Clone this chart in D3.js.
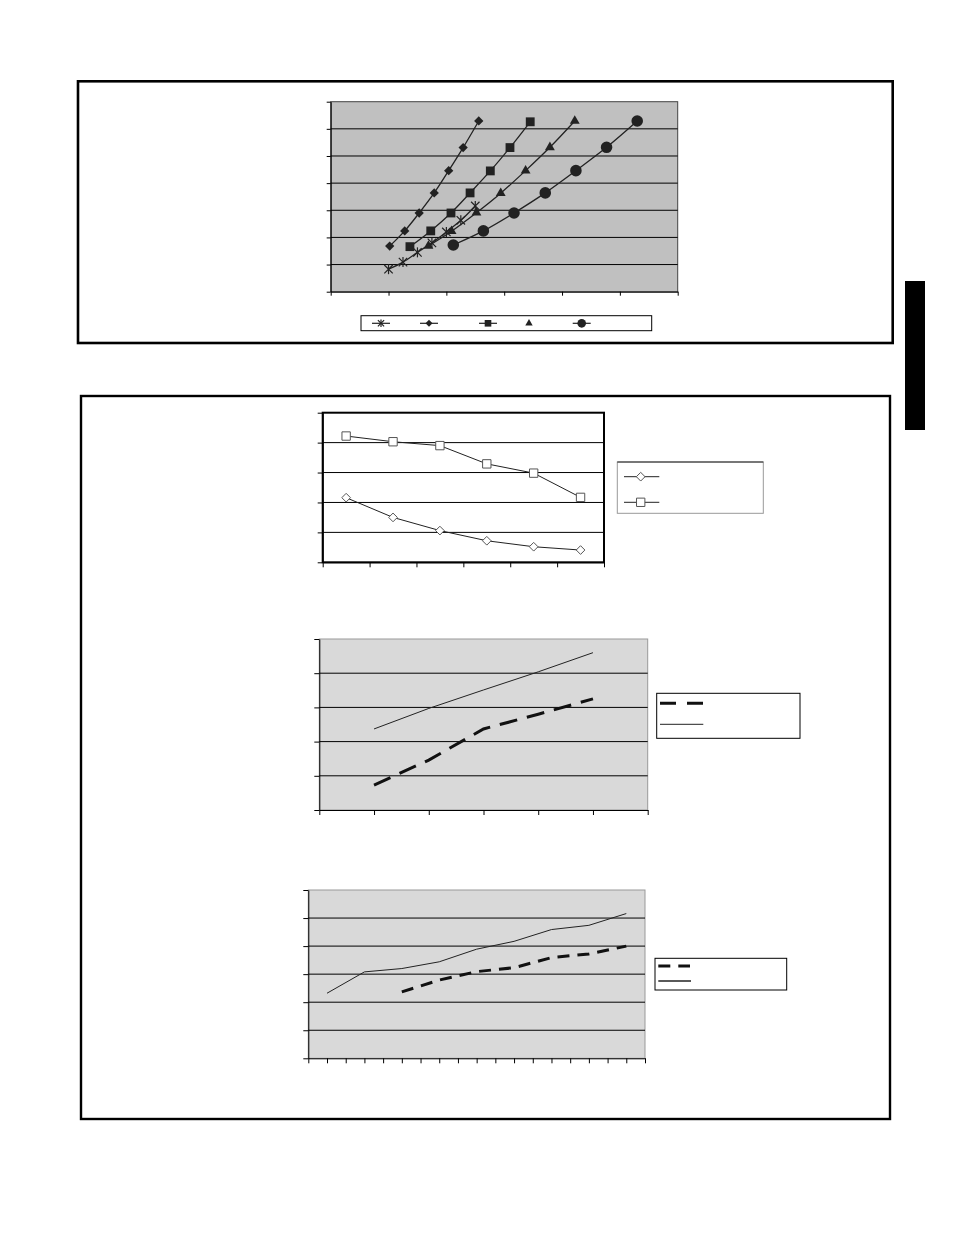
<!DOCTYPE html>
<html>
<head>
<meta charset="utf-8">
<script src="https://cdn.jsdelivr.net/npm/d3@7/dist/d3.min.js"></script>
<style>
  body { margin: 0; background: #fff; }
  svg { display: block; }
</style>
</head>
<body>
<div id="page"></div>
<script>
// ---- data: chart 1 (five marker series) ----
var starX = [1.0, 1.25, 1.5, 1.75, 2.0, 2.25, 2.5];
var starY = [0.83, 1.09, 1.45, 1.8, 2.2, 2.63, 3.16];
var diamondX = [1.02, 1.28, 1.53, 1.79, 2.04, 2.29, 2.56];
var diamondY = [1.68, 2.24, 2.9, 3.64, 4.46, 5.31, 6.29];
var squareX = [1.37, 1.73, 2.08, 2.41, 2.76, 3.1, 3.45];
var squareY = [1.66, 2.24, 2.9, 3.64, 4.45, 5.31, 6.26];
var triangleX = [1.69, 2.09, 2.52, 2.94, 3.37, 3.79, 4.22];
var triangleY = [1.69, 2.23, 2.91, 3.63, 4.46, 5.32, 6.29];
var circleX = [2.12, 2.64, 3.17, 3.71, 4.24, 4.77, 5.3];
var circleY = [1.72, 2.24, 2.9, 3.64, 4.46, 5.32, 6.29];

// ---- data: chart 2 (six categories, two series) ----
var cats2 = ['c1', 'c2', 'c3', 'c4', 'c5', 'c6'];
var openSquareY = [4.22, 4.03, 3.9, 3.29, 2.98, 2.17];
var openDiamondY = [2.16, 1.5, 1.06, 0.72, 0.52, 0.41];

// ---- data: chart 3 ----
var x3 = [1, 2, 3, 4, 5];
var solid3 = [2.37, 2.97, 3.51, 4.04, 4.6];
var dashed3 = [0.73, 1.46, 2.37, 2.8, 3.25];

// ---- data: chart 4 ----
var xSolid4 = [1, 3, 5, 7, 9, 11, 13, 15, 17];
var solid4 = [2.32, 3.08, 3.2, 3.44, 3.89, 4.17, 4.59, 4.74, 5.16];
var xDashed4 = [5, 7, 9, 11, 13, 15, 17];
var dashed4 = [2.37, 2.79, 3.09, 3.23, 3.59, 3.72, 4.0];

var svg = d3.select('#page')
  .append('svg')
  .attr('width', 954)
  .attr('height', 1235);

// page frames and side tab
svg.append('rect').attr('x', 78).attr('y', 81.3).attr('width', 814.7).attr('height', 261.7)
  .attr('fill', 'none').attr('stroke', '#000').attr('stroke-width', 2.6);
svg.append('rect').attr('x', 81).attr('y', 396).attr('width', 809).attr('height', 723)
  .attr('fill', 'none').attr('stroke', '#000').attr('stroke-width', 2.4);
svg.append('rect').attr('x', 905).attr('y', 281).attr('width', 20).attr('height', 149)
  .attr('fill', '#000');

function toPoints(xs, ys) {
  return xs.map(function(d, i) { return [d, ys[i]]; });
}

// generic plot frame: background, gridlines, axes
function frame(opt) {
  var g = svg.append('g');
  var x0 = opt.x.range()[0], x1 = opt.x.range()[1];
  var y0 = opt.y.range()[0], y1 = opt.y.range()[1];

  g.append('rect')
    .attr('x', x0).attr('y', y1)
    .attr('width', x1 - x0).attr('height', y0 - y1)
    .attr('fill', opt.bg)
    .attr('stroke', opt.border)
    .attr('stroke-width', opt.borderWidth);

  g.selectAll('.grid')
    .data(opt.y.ticks(opt.yTicks).filter(function(d) {
      return d > opt.y.domain()[0] && d < opt.y.domain()[1];
    }))
    .enter().append('line')
      .attr('x1', x0).attr('x2', x1)
      .attr('y1', function(d) { return opt.y(d); })
      .attr('y2', function(d) { return opt.y(d); })
      .attr('stroke', '#000')
      .attr('stroke-width', 1);

  var yAxis = d3.axisLeft(opt.y).ticks(opt.yTicks).tickFormat('').tickSize(opt.tick).tickSizeOuter(0);
  g.append('g').attr('transform', 'translate(' + x0 + ',0)').call(yAxis);

  var xAxis = opt.xAxis.tickFormat('').tickSize(opt.tick).tickSizeOuter(0);
  g.append('g').attr('transform', 'translate(0,' + y0 + ')').call(xAxis);

  g.selectAll('.domain, .tick line').attr('stroke', '#000').attr('stroke-width', 1);
  return g;
}

// ---------- chart 1 ----------
var x1s = d3.scaleLinear().domain([0, 6]).range([330.7, 677.7]);
var y1s = d3.scaleLinear().domain([0, 7]).range([291.7, 101.7]);
var g1 = frame({
  x: x1s, y: y1s, yTicks: 7, tick: 4,
  xAxis: d3.axisBottom(x1s).ticks(6),
  bg: '#c0c0c0', border: '#444', borderWidth: 1
});

var line1 = d3.line()
  .x(function(d) { return x1s(d[0]); })
  .y(function(d) { return y1s(d[1]); })
  .curve(d3.curveCatmullRom);

var series1 = [
  { pts: toPoints(starX, starY), sym: 'star' },
  { pts: toPoints(diamondX, diamondY), sym: 'diamond' },
  { pts: toPoints(squareX, squareY), sym: 'square' },
  { pts: toPoints(triangleX, triangleY), sym: 'triangle' },
  { pts: toPoints(circleX, circleY), sym: 'circle' }
];

function marker(sel, sym, scale) {
  var k = scale || 1;
  if (sym === 'star') {
    sel.append('path')
      .attr('d', d3.symbol().type(d3.symbolTimes).size(48 * k * k)())
      .attr('fill', 'none').attr('stroke', '#222').attr('stroke-width', 1.2);
    sel.append('line').attr('x1', 0).attr('x2', 0).attr('y1', -5 * k).attr('y2', 5 * k)
      .attr('stroke', '#222').attr('stroke-width', 1.2);
  } else if (sym === 'diamond') {
    sel.append('path').attr('d', d3.symbol().type(d3.symbolDiamond2).size(55 * k * k)()).attr('fill', '#222');
  } else if (sym === 'square') {
    sel.append('path').attr('d', d3.symbol().type(d3.symbolSquare).size(78 * k * k)()).attr('fill', '#222');
  } else if (sym === 'triangle') {
    sel.append('path').attr('d', d3.symbol().type(d3.symbolTriangle).size(42 * k * k)()).attr('fill', '#222');
  } else {
    sel.append('path').attr('d', d3.symbol().type(d3.symbolCircle).size(105 * k * k)()).attr('fill', '#222');
  }
}

series1.forEach(function(s) {
  g1.append('path')
    .attr('d', line1(s.pts))
    .attr('fill', 'none')
    .attr('stroke', '#222')
    .attr('stroke-width', 1.3);
  s.pts.forEach(function(p) {
    var m = g1.append('g').attr('transform', 'translate(' + x1s(p[0]) + ',' + y1s(p[1]) + ')');
    marker(m, s.sym, 1);
  });
});

// legend 1
var leg1Pos = [381, 429, 488, 529, 581.7];
var leg1 = svg.append('g');
leg1.append('rect').attr('x', 361).attr('y', 315.7).attr('width', 290.7).attr('height', 15)
  .attr('fill', '#fff').attr('stroke', '#000').attr('stroke-width', 1);
series1.forEach(function(s, i) {
  var cx = leg1Pos[i];
  if (s.sym !== 'triangle') {
    leg1.append('line').attr('x1', cx - 9).attr('x2', cx + 9).attr('y1', 323.3).attr('y2', 323.3)
      .attr('stroke', '#222').attr('stroke-width', 1.2);
  }
  var m = leg1.append('g').attr('transform', 'translate(' + cx + ',323.3)');
  marker(m, s.sym, 0.75);
});

// ---------- chart 2 ----------
var x2s = d3.scaleBand().domain(cats2).range([322.7, 604]);
var y2s = d3.scaleLinear().domain([0, 5]).range([562.3, 412.7]);
var g2 = frame({
  x: x2s, y: y2s, yTicks: 5, tick: 5,
  xAxis: d3.axisBottom(d3.scaleLinear().domain([0, 6]).range([322.7, 604])).ticks(6),
  bg: '#fff', border: '#000', borderWidth: 2
});

var line2 = d3.line()
  .x(function(d) { return x2s(d[0]) + x2s.bandwidth() / 2; })
  .y(function(d) { return y2s(d[1]); });

var series2 = [
  { vals: openDiamondY, sym: d3.symbolDiamond2, size: 48 },
  { vals: openSquareY, sym: d3.symbolSquare, size: 70 }
];

series2.forEach(function(s) {
  var pts = toPoints(cats2, s.vals);
  g2.append('path')
    .attr('d', line2(pts))
    .attr('fill', 'none').attr('stroke', '#222').attr('stroke-width', 1);
  g2.selectAll(null)
    .data(pts)
    .enter().append('path')
      .attr('transform', function(d) {
        return 'translate(' + (x2s(d[0]) + x2s.bandwidth() / 2) + ',' + y2s(d[1]) + ')';
      })
      .attr('d', d3.symbol().type(s.sym).size(s.size)())
      .attr('fill', '#fff').attr('stroke', '#555').attr('stroke-width', 1);
});

var leg2 = svg.append('g');
leg2.append('rect').attr('x', 617.3).attr('y', 462).attr('width', 146).attr('height', 51.3)
  .attr('fill', '#fff').attr('stroke', '#999').attr('stroke-width', 1);
leg2.append('line').attr('x1', 617.3).attr('x2', 763.3).attr('y1', 462).attr('y2', 462)
  .attr('stroke', '#222').attr('stroke-width', 1);
[476.7, 502.3].forEach(function(ly, i) {
  leg2.append('line').attr('x1', 624).attr('x2', 659.3).attr('y1', ly).attr('y2', ly)
    .attr('stroke', '#222').attr('stroke-width', 1);
  leg2.append('path')
    .attr('transform', 'translate(640.7,' + ly + ')')
    .attr('d', d3.symbol().type(series2[i].sym).size(series2[i].size)())
    .attr('fill', '#fff').attr('stroke', '#555').attr('stroke-width', 1);
});

// ---------- chart 3 ----------
var x3s = d3.scaleLinear().domain([0, 6]).range([319.3, 647.7]);
var y3s = d3.scaleLinear().domain([0, 5]).range([810, 639]);
var g3 = frame({
  x: x3s, y: y3s, yTicks: 5, tick: 5,
  xAxis: d3.axisBottom(x3s).ticks(6),
  bg: '#d9d9d9', border: '#999', borderWidth: 1
});

var line3 = d3.line()
  .x(function(d) { return x3s(d[0]); })
  .y(function(d) { return y3s(d[1]); });

g3.append('path').attr('d', line3(toPoints(x3, solid3)))
  .attr('fill', 'none').attr('stroke', '#222').attr('stroke-width', 1);
g3.append('path').attr('d', line3(toPoints(x3, dashed3)))
  .attr('fill', 'none').attr('stroke', '#111').attr('stroke-width', 3)
  .attr('stroke-dasharray', '18,10');

var leg3 = svg.append('g');
leg3.append('rect').attr('x', 656.7).attr('y', 693.3).attr('width', 143.3).attr('height', 45)
  .attr('fill', '#fff').attr('stroke', '#000').attr('stroke-width', 1);
leg3.append('line').attr('x1', 660).attr('x2', 703.3).attr('y1', 703.3).attr('y2', 703.3)
  .attr('stroke', '#111').attr('stroke-width', 3).attr('stroke-dasharray', '16,11');
leg3.append('line').attr('x1', 660).attr('x2', 703.3).attr('y1', 724.3).attr('y2', 724.3)
  .attr('stroke', '#222').attr('stroke-width', 1);

// ---------- chart 4 ----------
var x4s = d3.scaleLinear().domain([0, 18]).range([308.3, 645]);
var y4s = d3.scaleLinear().domain([0, 6]).range([1058.3, 890]);
var g4 = frame({
  x: x4s, y: y4s, yTicks: 6, tick: 5,
  xAxis: d3.axisBottom(x4s).ticks(18),
  bg: '#d9d9d9', border: '#999', borderWidth: 1
});

var line4 = d3.line()
  .x(function(d) { return x4s(d[0]); })
  .y(function(d) { return y4s(d[1]); });

g4.append('path').attr('d', line4(toPoints(xSolid4, solid4)))
  .attr('fill', 'none').attr('stroke', '#222').attr('stroke-width', 1);
g4.append('path').attr('d', line4(toPoints(xDashed4, dashed4)))
  .attr('fill', 'none').attr('stroke', '#111').attr('stroke-width', 3)
  .attr('stroke-dasharray', '12,8');

var leg4 = svg.append('g');
leg4.append('rect').attr('x', 655).attr('y', 958.3).attr('width', 131.7).attr('height', 31.7)
  .attr('fill', '#fff').attr('stroke', '#000').attr('stroke-width', 1);
leg4.append('line').attr('x1', 658.3).attr('x2', 690).attr('y1', 966).attr('y2', 966)
  .attr('stroke', '#111').attr('stroke-width', 3).attr('stroke-dasharray', '12,8');
leg4.append('line').attr('x1', 658.3).attr('x2', 691).attr('y1', 981).attr('y2', 981)
  .attr('stroke', '#222').attr('stroke-width', 1.5);
</script>
</body>
</html>
